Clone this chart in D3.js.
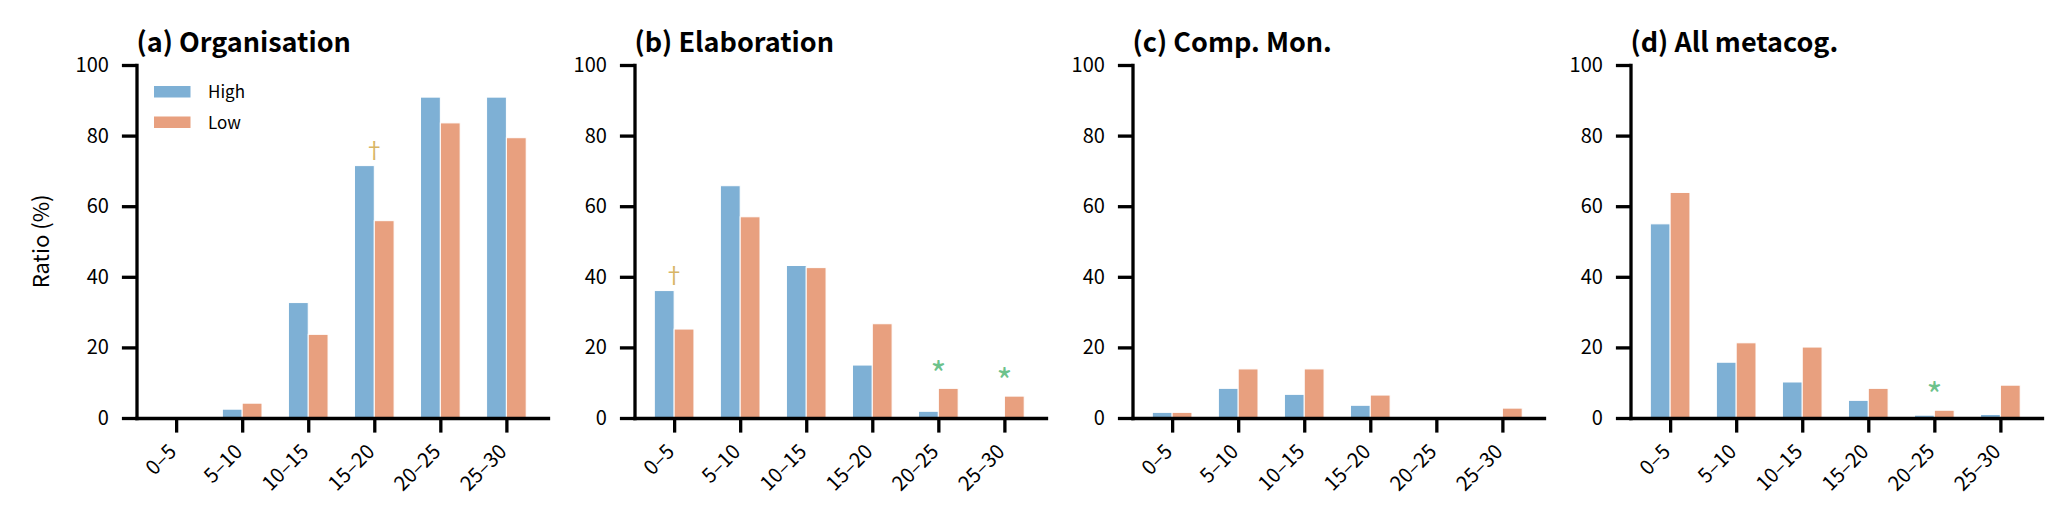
<!DOCTYPE html>
<html>
<head>
<meta charset="utf-8">
<script src="https://cdn.jsdelivr.net/npm/d3@7"></script>
<style>
  body { margin: 0; background: #fff; }
  text { font-family: "Noto Sans CJK JP", "Noto Sans", sans-serif; fill: #000; }
  .axis path, .axis line { stroke: #000; stroke-width: 3.3; }
  .axis text { font-size: 20px; }
  .panel-title { font-size: 27px; font-weight: bold; }
  .axis-label { font-size: 22px; }
  .legend-text { font-size: 17px; }
</style>
</head>
<body>
<svg id="chart"></svg>
<script>
// ---- data ----
const categories = ['0–5', '5–10', '10–15', '15–20', '20–25', '25–30'];
const yTicks = [0, 20, 40, 60, 80, 100];
const seriesNames = ['High', 'Low'];
const panelTitles = ['(a) Organisation', '(b) Elaboration', '(c) Comp. Mon.', '(d) All metacog.'];

const orgHigh  = [0, 2.5, 32.7, 71.5, 90.9, 90.9];
const orgLow   = [0, 4.2, 23.7, 55.9, 83.6, 79.4];
const elabHigh = [36.1, 65.8, 43.2, 15.0, 1.9, 0];
const elabLow  = [25.2, 57.0, 42.6, 26.7, 8.4, 6.2];
const compHigh = [1.6, 8.4, 6.7, 3.6, 0, 0];
const compLow  = [1.6, 13.9, 13.9, 6.5, 0, 2.8];
const allHigh  = [55.0, 15.8, 10.2, 5.0, 0.8, 1.0];
const allLow   = [63.9, 21.3, 20.1, 8.4, 2.2, 9.3];

// significance marks: category index + symbol
const orgMarks  = [{ idx: 3, symbol: '†' }];
const elabMarks = [{ idx: 0, symbol: '†' }, { idx: 4, symbol: '*' }, { idx: 5, symbol: '*' }];
const compMarks = [];
const allMarks  = [{ idx: 4, symbol: '*' }];

const colors = { High: '#7eb0d5', Low: '#e8a07f' };
const markColors = { '†': '#d8b565', '*': '#6cc28b' };
const markSize = { '†': '22px', '*': '34px' };
const markOffset = { '†': 5, '*': 4.6 }; // value units above the taller bar

const svg = d3.select('#chart').attr('width', 2069).attr('height', 523);

class GroupedBars {

    constructor(_config, _data)
    {
        this.config =
        {
            left: _config.left,
            top: _config.top || 65,
            width: _config.width || 411.5,
            height: _config.height || 353,
            title: _config.title,
            showLegend: _config.showLegend || false,
            showYLabel: _config.showYLabel || false
        }
        this.data = _data;
        this.initVis();
    }

    initVis()
    {
        let vis = this;

        vis.xScale = d3.scaleLinear()
            .domain([-0.6, 5.63])
            .range([0, vis.config.width]);

        vis.yScale = d3.scaleLinear()
            .domain([0, 100])
            .range([vis.config.height, 0]);

        vis.chart = svg.append('g')
            .attr('transform', `translate(${vis.config.left},${vis.config.top})`);

        vis.barWidth = 0.3;
        vis.renderVis();
    }

    renderVis()
    {
        let vis = this;
        const rows = categories.map((c, i) => ({ i, High: vis.data.high[i], Low: vis.data.low[i] }));

        // bars: High left of the tick, Low right of it
        seriesNames.forEach((s, k) => {
            vis.chart.selectAll(`rect.bar-${s}`)
                .data(rows)
                .join('rect')
                .attr('class', `bar-${s}`)
                .attr('x', d => vis.xScale(d.i - vis.barWidth + k * vis.barWidth))
                .attr('width', vis.xScale(vis.barWidth) - vis.xScale(0))
                .attr('y', d => vis.yScale(d[s]))
                .attr('height', d => vis.config.height - vis.yScale(d[s]))
                .attr('fill', colors[s])
                .attr('stroke', '#fff')
                .attr('stroke-width', 1);
        });

        // significance marks
        vis.chart.selectAll('text.mark')
            .data(vis.data.marks)
            .join('text')
            .attr('class', 'mark')
            .attr('x', d => vis.xScale(d.idx))
            .attr('y', d => vis.yScale(Math.max(vis.data.high[d.idx], vis.data.low[d.idx]) + markOffset[d.symbol]))
            .attr('dominant-baseline', 'central')
            .attr('text-anchor', 'middle')
            .style('font-size', d => markSize[d.symbol])
            .style('fill', d => markColors[d.symbol])
            .text(d => d.symbol);

        const xAxis = d3.axisBottom(vis.xScale)
            .tickValues(d3.range(categories.length))
            .tickFormat(i => categories[i])
            .tickSize(14.6)
            .tickSizeOuter(0);

        const yAxis = d3.axisLeft(vis.yScale)
            .tickValues(yTicks)
            .tickSize(14.6)
            .tickPadding(13)
            .tickSizeOuter(0);

        vis.chart.append('g')
            .attr('class', 'axis x-axis')
            .attr('transform', `translate(0,${vis.config.height})`)
            .call(xAxis)
            .selectAll('text')
            .attr('x', 0)
            .attr('y', 0)
            .attr('dy', 0)
            .attr('text-anchor', 'end')
            .attr('transform', 'translate(1,35) rotate(-45)');

        vis.chart.append('g')
            .attr('class', 'axis y-axis')
            .call(yAxis);

        vis.chart.selectAll('.axis .domain').attr('stroke-linecap', 'square');

        vis.chart.append('text')
            .attr('class', 'panel-title')
            .attr('x', 0)
            .attr('y', -13)
            .text(vis.config.title);

        if (vis.config.showYLabel) {
            vis.chart.append('text')
                .attr('class', 'axis-label')
                .attr('transform', `translate(${-88},${vis.config.height / 2}) rotate(-90)`)
                .attr('text-anchor', 'middle')
                .text('Ratio (%)');
        }

        if (vis.config.showLegend) {
            const legend = vis.chart.append('g')
                .attr('transform', 'translate(17.5,21)');
            seriesNames.forEach((s, k) => {
                legend.append('rect')
                    .attr('x', 0)
                    .attr('y', k * 30.5)
                    .attr('width', 36.5)
                    .attr('height', 11.5)
                    .attr('fill', colors[s]);
                legend.append('text')
                    .attr('class', 'legend-text')
                    .attr('x', 54)
                    .attr('y', k * 30.5 + 12)
                    .text(s);
            });
        }
    }
}

const panels = [
    { high: orgHigh,  low: orgLow,  marks: orgMarks },
    { high: elabHigh, low: elabLow, marks: elabMarks },
    { high: compHigh, low: compLow, marks: compMarks },
    { high: allHigh,  low: allLow,  marks: allMarks }
];

panels.forEach((p, k) => {
    new GroupedBars({
        left: 136.5 + k * 498,
        title: panelTitles[k],
        showLegend: k === 0,
        showYLabel: k === 0
    }, p);
});
</script>
</body>
</html>
